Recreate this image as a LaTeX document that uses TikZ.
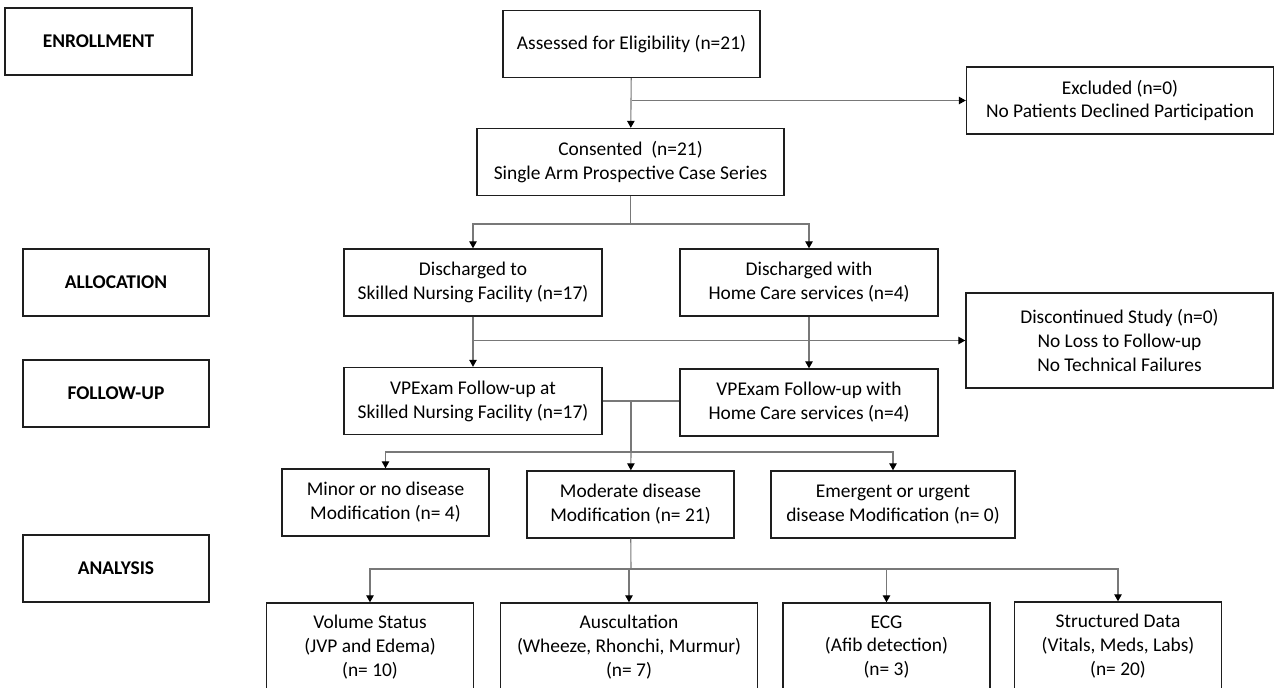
\documentclass[tikz,border=0pt]{standalone}
\usepackage{fontspec}
\setmainfont{Carlito}
\usepackage{tikz}
\usetikzlibrary{arrows.meta}
\definecolor{linegray}{RGB}{120,120,120}
\definecolor{boxline}{RGB}{30,30,30}
\tikzset{
  box/.style={draw=boxline,line width=1.4bp,fill=white,inner sep=0pt,minimum width=258bp,minimum height=67bp,align=center,font=\fontsize{19.5}{24}\selectfont},
  stage/.style={box,minimum width=186bp,font=\fontsize{19.5}{24}\selectfont\bfseries},
  link/.style={draw=linegray,line width=1.1bp},
  arr/.style={link,-{Triangle[length=7bp,width=7.5bp,color=black]}}
}

\begin{document}
\begin{tikzpicture}[x=1bp,y=-1bp]
  \useasboundingbox (0,0) rectangle (1276,688);
  % stages
  \node[stage,minimum width=187bp] (enr) at (98.5,41.5) {ENROLLMENT};
  \node[stage] (alloc) at (116,282.5) {ALLOCATION};
  \node[stage] (fup) at (116,393.5) {FOLLOW-UP};
  \node[stage] (anal) at (116,568.5) {ANALYSIS};
  % enrollment
  \node[box,minimum width=257bp] (assess) at (631.5,44) {Assessed for Eligibility (n=21)};
  \node[box,minimum width=307bp] (excl) at (1120,100.5) {Excluded (n=0)\\No Patients Declined Participation};
  \node[box,minimum width=307bp] (consent) at (630.5,162) {Consented \ (n=21)\\Single Arm Prospective Case Series};
  % allocation and follow-up
  \node[box] (dsnf) at (473,282.5) {Discharged to\\Skilled Nursing Facility (n=17)};
  \node[box] (dhome) at (809,282.5) {Discharged with\\Home Care services (n=4)};
  \node[box,minimum width=307bp,minimum height=95bp] (disc) at (1119.5,340.5) {Discontinued Study (n=0)\\No Loss to Follow-up\\No Technical Failures};
  \node[box] (fsnf) at (473,401) {VPExam Follow-up at\\Skilled Nursing Facility (n=17)};
  \node[box] (fhome) at (809,402.5) {VPExam Follow-up with\\Home Care services (n=4)};
  % analysis
  \node[box,minimum width=207bp] (minor) at (385.5,502.5) {Minor or no disease\\Modification (n= 4)};
  \node[box,minimum width=207bp] (moder) at (630.5,504.5) {Moderate disease\\Modification (n= 21)};
  \node[box,minimum width=244bp] (emerg) at (893,504.5) {Emergent or urgent\\disease Modification (n= 0)};
  \node[box,minimum width=207bp,minimum height=88bp] (vol) at (370,647) {Volume Status\\(JVP and Edema)\\(n= 10)};
  \node[box,minimum width=257bp,minimum height=88bp] (ausc) at (629,647) {Auscultation\\(Wheeze, Rhonchi, Murmur)\\(n= 7)};
  \node[box,minimum width=207bp,minimum height=88bp] (ecg) at (886.5,647) {ECG\\(Afib detection)\\(n= 3)};
  \node[box,minimum width=207bp,minimum height=88bp] (struct) at (1118,646) {Structured Data\\(Vitals, Meds, Labs)\\(n= 20)};
  \coordinate (s1) at (630.5,224);
  \coordinate (s2) at (631,452);
  \coordinate (s3) at (631,569);
  % connectors
  \draw[arr] (assess) -- (consent);
  \draw[arr] (assess.south |- excl.west) -- (excl.west);
  \draw[link] (consent) -- (s1);
  \draw[arr] (s1) -| (dsnf);
  \draw[arr] (s1) -| (dhome);
  \draw[arr] (dsnf) -- (fsnf);
  \draw[arr] (dhome) -- (fhome);
  \draw[arr] (dsnf.south |- disc.west) -- (disc.west);
  \draw[link] (fsnf.east) -- (fsnf.east -| fhome.west);
  \draw[link] (s2 |- fsnf.east) -- (s2);
  \draw[arr] (s2) -| (minor);
  \draw[arr] (s2) -- (moder);
  \draw[arr] (s2) -| (emerg);
  \draw[link] (moder) -- (s3);
  \draw[arr] (s3) -| (vol);
  \draw[arr] (s3) -| (ausc);
  \draw[arr] (s3) -| (ecg);
  \draw[arr] (s3) -| (struct);
\end{tikzpicture}
\end{document}
